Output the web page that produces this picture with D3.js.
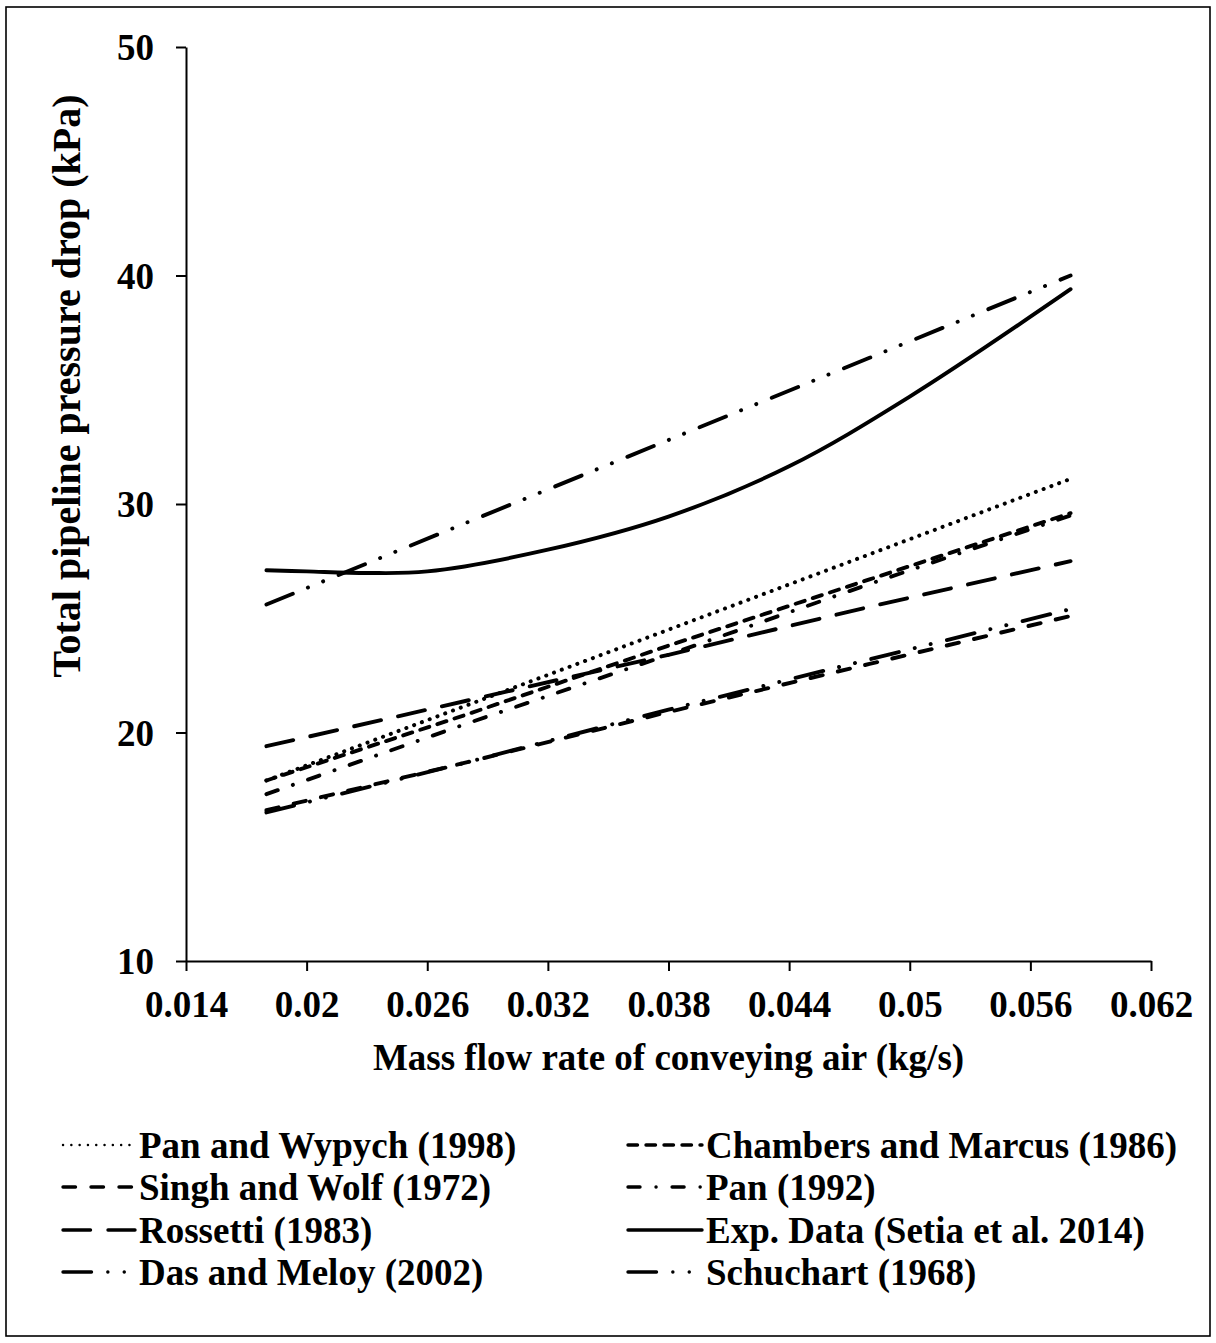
<!DOCTYPE html>
<html>
<head>
<meta charset="utf-8">
<script src="https://cdn.jsdelivr.net/npm/d3@7"></script>
<style>
  html, body { margin: 0; padding: 0; background: #fff; }
  svg text { font-family: "Liberation Serif", "Times New Roman", serif; font-weight: bold; fill: #000; }
</style>
</head>
<body>
<svg id="chart" width="1216" height="1343"></svg>
<script>
// Mass flow rate of conveying air (kg/s) at which the correlations were evaluated
const flowRates = [0.018, 0.028, 0.038, 0.048, 0.058];

// Predicted total pipeline pressure drop (kPa) for each correlation
const panWypych1998 = [17.9, 21.2, 24.5, 27.8, 31.1];
const chambersMarcus1986 = [17.9, 20.8, 23.8, 26.7, 29.6];
const singhWolf1972 = [16.6, 18.7, 20.9, 23.0, 25.1];
const pan1992 = [17.3, 20.4, 23.4, 26.5, 29.5];
const rossetti1983 = [19.4, 21.4, 23.4, 25.5, 27.5];
const dasMeloy2002 = [16.5, 18.7, 21.0, 23.2, 25.4];
const schuchart1968 = [25.6, 29.2, 32.8, 36.4, 40.0];

// Measured pressure drop (Setia et al. 2014)
const expFlowRates = [0.018, 0.020, 0.023, 0.026, 0.032, 0.038, 0.044, 0.050, 0.058];
const expPressure = [27.1, 27.05, 26.98, 27.05, 28.0, 29.45, 31.65, 34.7, 39.4];

// Axis ticks
const xTickValues = [0.014, 0.02, 0.026, 0.032, 0.038, 0.044, 0.05, 0.056, 0.062];
const xTickLabels = ["0.014", "0.02", "0.026", "0.032", "0.038", "0.044", "0.05", "0.056", "0.062"];
const yTickValues = [10, 20, 30, 40, 50];
const yTickLabels = ["10", "20", "30", "40", "50"];

const seriesNames = [
  "Pan and Wypych (1998)", "Chambers and Marcus (1986)",
  "Singh and Wolf (1972)", "Pan (1992)",
  "Rossetti (1983)", "Exp. Data (Setia et al. 2014)",
  "Das and Meloy (2002)", "Schuchart (1968)"
];

const xTitle = "Mass flow rate of conveying air (kg/s)";
const yTitle = "Total pipeline pressure drop (kPa)";

// Line styles (round caps turn the tiny dash segments into dots)
const dashStyles = {
  "Pan and Wypych (1998)": "0.1,8.2",
  "Chambers and Marcus (1986)": "9.5,8.5",
  "Singh and Wolf (1972)": "12.5,15.5",
  "Pan (1992)": "12,16,0.1,16",
  "Rossetti (1983)": "27.5,17.5",
  "Exp. Data (Setia et al. 2014)": null,
  "Das and Meloy (2002)": "28.5,16.3,0.1,16.3,0.1,16.7",
  "Schuchart (1968)": "28.5,16.3,0.1,16.3,0.1,16.7"
};

const series = [
  { name: seriesNames[0], x: flowRates, y: panWypych1998 },
  { name: seriesNames[1], x: flowRates, y: chambersMarcus1986 },
  { name: seriesNames[2], x: flowRates, y: singhWolf1972 },
  { name: seriesNames[3], x: flowRates, y: pan1992 },
  { name: seriesNames[4], x: flowRates, y: rossetti1983 },
  { name: seriesNames[5], x: expFlowRates, y: expPressure, smooth: true },
  { name: seriesNames[6], x: flowRates, y: dasMeloy2002 },
  { name: seriesNames[7], x: flowRates, y: schuchart1968 }
];

const svg = d3.select("#chart");
const plot = { left: 186, right: 1151, top: 47, bottom: 961 };

// outer frame
svg.append("rect")
  .attr("x", 6).attr("y", 7).attr("width", 1204).attr("height", 1329)
  .attr("fill", "#fff").attr("stroke", "#000").attr("stroke-width", 1.6);

const x = d3.scaleLinear().domain([0.014, 0.062]).range([plot.left, plot.right]);
const y = d3.scaleLinear().domain([10, 50]).range([plot.bottom, plot.top]);

// axes
const xAxis = d3.axisBottom(x)
  .tickValues(xTickValues)
  .tickFormat((d, i) => xTickLabels[i])
  .tickSizeInner(10).tickSizeOuter(0).tickPadding(20);
const yAxis = d3.axisLeft(y)
  .tickValues(yTickValues)
  .tickFormat((d, i) => yTickLabels[i])
  .tickSizeInner(10).tickSizeOuter(0).tickPadding(22);

const gx = svg.append("g").attr("transform", `translate(0,${plot.bottom})`).call(xAxis);
const gy = svg.append("g").attr("transform", `translate(${plot.left},0)`).call(yAxis);

[gx, gy].forEach(g => {
  g.select(".domain").attr("stroke", "#000").attr("stroke-width", 2);
  g.selectAll(".tick line").attr("stroke", "#000").attr("stroke-width", 2);
  g.selectAll(".tick text")
    .attr("font-family", "'Liberation Serif', 'Times New Roman', serif")
    .attr("font-weight", "bold")
    .attr("font-size", 37)
    .attr("fill", "#000");
});
gx.selectAll(".tick text").attr("dy", "0.71em");
gy.selectAll(".tick text").attr("dy", "0.34em");

// axis titles
svg.append("text")
  .attr("x", (plot.left + plot.right) / 2)
  .attr("y", 1070)
  .attr("text-anchor", "middle")
  .attr("font-size", 37)
  .text(xTitle);

svg.append("text")
  .attr("transform", "translate(80,386) rotate(-90)")
  .attr("text-anchor", "middle")
  .attr("font-size", 40)
  .text(yTitle);

// series lines
const linePath = d3.line().x(d => x(d[0])).y(d => y(d[1]));
const smoothPath = d3.line().x(d => x(d[0])).y(d => y(d[1])).curve(d3.curveCatmullRom.alpha(0.5));

const gLines = svg.append("g");
series.forEach(s => {
  const pts = s.x.map((v, i) => [v, s.y[i]]);
  gLines.append("path")
    .attr("d", (s.smooth ? smoothPath : linePath)(pts))
    .attr("fill", "none")
    .attr("stroke", "#000")
    .attr("stroke-width", s.name === seriesNames[0] ? 4 : 3.9)
    .attr("stroke-linecap", "round")
    .attr("stroke-linejoin", "round")
    .attr("stroke-dasharray", dashStyles[s.name]);
});

// legend: two columns, four rows
const legendRows = [1145, 1187, 1230, 1272];
const legendCols = [{ x0: 63, x1: 135, tx: 139 }, { x0: 628, x1: 702, tx: 706 }];
const gLegend = svg.append("g");
series.forEach((s, i) => {
  const col = legendCols[i % 2];
  const cy = legendRows[Math.floor(i / 2)];
  gLegend.append("line")
    .attr("x1", col.x0).attr("x2", col.x1)
    .attr("y1", cy).attr("y2", cy)
    .attr("stroke", "#000")
    .attr("stroke-width", s.name === seriesNames[0] ? 2.4 : 3.4)
    .attr("stroke-linecap", "round")
    .attr("stroke-dasharray", dashStyles[s.name]);
  gLegend.append("text")
    .attr("x", col.tx).attr("y", cy + 12.5)
    .attr("font-size", 37)
    .text(s.name);
});
</script>
</body>
</html>
